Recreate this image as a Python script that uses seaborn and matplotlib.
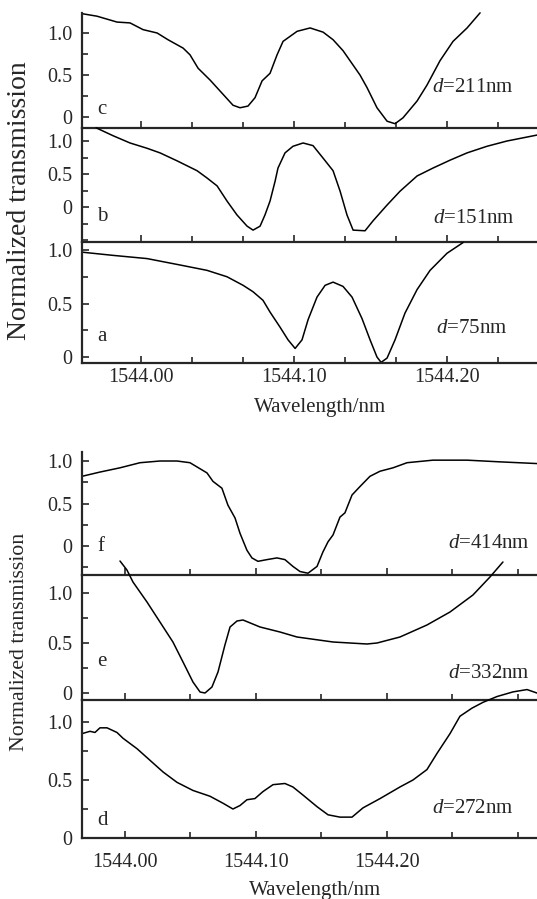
import matplotlib.pyplot as plt
import pandas as pd
import seaborn as sns
from matplotlib.ticker import FixedLocator, FuncFormatter, MultipleLocator

# wavelength (nm) / normalized transmission
C_WL = [1543.9614, 1543.9712, 1543.9843, 1543.9928, 1544.0013, 1544.0105, 1544.0176, 1544.0275,
        1544.0320, 1544.0373, 1544.0451, 1544.0536, 1544.0601, 1544.0647, 1544.0699, 1544.0745,
        1544.0791, 1544.0843, 1544.0889, 1544.0928, 1544.1020, 1544.1105, 1544.1190, 1544.1255,
        1544.1320, 1544.1431, 1544.1477, 1544.1542, 1544.1608, 1544.1660, 1544.1712, 1544.1804,
        1544.1869, 1544.1954, 1544.2039, 1544.2131, 1544.2216]
C_T = [1.23, 1.20, 1.13, 1.12, 1.04, 1.00, 0.92, 0.82, 0.74, 0.58, 0.44, 0.27, 0.14, 0.11, 0.13,
       0.23, 0.43, 0.52, 0.74, 0.90, 1.02, 1.06, 1.01, 0.92, 0.79, 0.50, 0.35, 0.11, -0.05, -0.08,
       -0.01, 0.19, 0.38, 0.67, 0.90, 1.06, 1.24]

B_WL = [1543.9706, 1543.9817, 1543.9928, 1544.0039, 1544.0124, 1544.0235, 1544.0366, 1544.0431,
        1544.0497, 1544.0562, 1544.0627, 1544.0693, 1544.0732, 1544.0778, 1544.0810, 1544.0843,
        1544.0876, 1544.0895, 1544.0941, 1544.0993, 1544.1059, 1544.1124, 1544.1190, 1544.1255,
        1544.1301, 1544.1346, 1544.1386, 1544.1464, 1544.1516, 1544.1608, 1544.1693, 1544.1804,
        1544.1908, 1544.2020, 1544.2131, 1544.2261, 1544.2392, 1544.2588]
B_T = [1.20, 1.08, 0.97, 0.89, 0.82, 0.70, 0.55, 0.44, 0.32, 0.09, -0.12, -0.29, -0.35, -0.29,
       -0.12, 0.09, 0.39, 0.59, 0.82, 0.92, 0.97, 0.93, 0.74, 0.55, 0.24, -0.12, -0.35, -0.36,
       -0.21, 0.03, 0.24, 0.47, 0.59, 0.71, 0.82, 0.92, 1.00, 1.09]

A_WL = [1543.9614, 1543.9817, 1544.0039, 1544.0255, 1544.0431, 1544.0562, 1544.0667, 1544.0732,
        1544.0797, 1544.0843, 1544.0908, 1544.0961, 1544.1007, 1544.1052, 1544.1092, 1544.1150,
        1544.1203, 1544.1255, 1544.1320, 1544.1379, 1544.1444, 1544.1497, 1544.1542, 1544.1569,
        1544.1608, 1544.1660, 1544.1725, 1544.1804, 1544.1889, 1544.2000, 1544.2105]
A_T = [0.98, 0.95, 0.92, 0.86, 0.81, 0.75, 0.67, 0.61, 0.53, 0.42, 0.28, 0.16, 0.08, 0.16, 0.35,
       0.56, 0.67, 0.70, 0.66, 0.56, 0.36, 0.16, 0.00, -0.05, -0.01, 0.16, 0.41, 0.63, 0.81, 0.97,
       1.07]

F_WL = [1543.9672, 1543.9809, 1543.9962, 1544.0115, 1544.0267, 1544.0397, 1544.0496, 1544.0626,
        1544.0672, 1544.0740, 1544.0786, 1544.0840, 1544.0878, 1544.0931, 1544.0969, 1544.1015,
        1544.1084, 1544.1160, 1544.1221, 1544.1282, 1544.1336, 1544.1397, 1544.1466, 1544.1511,
        1544.1550, 1544.1588, 1544.1641, 1544.1679, 1544.1733, 1544.1794, 1544.1870, 1544.1947,
        1544.2046, 1544.2153, 1544.2351, 1544.2611, 1544.2863, 1544.3145]
F_T = [0.82, 0.87, 0.92, 0.98, 1.00, 1.00, 0.98, 0.86, 0.76, 0.68, 0.48, 0.33, 0.15, -0.05, -0.14,
       -0.18, -0.16, -0.14, -0.16, -0.24, -0.30, -0.32, -0.24, -0.07, 0.05, 0.13, 0.34, 0.39, 0.60,
       0.70, 0.82, 0.88, 0.92, 0.98, 1.01, 1.01, 0.99, 0.97]

E_WL = [1543.9962, 1544.0015, 1544.0061, 1544.0168, 1544.0267, 1544.0366, 1544.0443, 1544.0519,
        1544.0573, 1544.0611, 1544.0664, 1544.0710, 1544.0763, 1544.0802, 1544.0855, 1544.0901,
        1544.1031, 1544.1183, 1544.1313, 1544.1588, 1544.1847, 1544.1924, 1544.2099, 1544.2305,
        1544.2481, 1544.2656, 1544.2786, 1544.2885]
E_T = [1.32, 1.23, 1.11, 0.91, 0.71, 0.51, 0.31, 0.11, 0.01, 0.00, 0.06, 0.21, 0.48, 0.66, 0.72,
       0.73, 0.66, 0.61, 0.56, 0.51, 0.49, 0.50, 0.56, 0.68, 0.81, 0.98, 1.16, 1.31]

D_WL = [1543.9672, 1543.9733, 1543.9771, 1543.9809, 1543.9863, 1543.9939, 1543.9985, 1544.0092,
        1544.0191, 1544.0290, 1544.0397, 1544.0519, 1544.0649, 1544.0748, 1544.0824, 1544.0878,
        1544.0931, 1544.0992, 1544.1053, 1544.1130, 1544.1221, 1544.1282, 1544.1359, 1544.1466,
        1544.1550, 1544.1641, 1544.1733, 1544.1817, 1544.1947, 1544.2099, 1544.2198, 1544.2305,
        1544.2382, 1544.2481, 1544.2557, 1544.2649, 1544.2733, 1544.2840, 1544.2962, 1544.3069,
        1544.3145]
D_T = [0.90, 0.92, 0.91, 0.95, 0.95, 0.91, 0.86, 0.77, 0.67, 0.57, 0.48, 0.41, 0.36, 0.30, 0.25,
       0.28, 0.33, 0.34, 0.40, 0.46, 0.47, 0.44, 0.37, 0.27, 0.20, 0.18, 0.18, 0.26, 0.34, 0.44,
       0.50, 0.59, 0.73, 0.90, 1.05, 1.12, 1.17, 1.22, 1.26, 1.28, 1.25]

THICKNESS = ["211nm", "151nm", "75nm", "414nm", "332nm", "272nm"]
LETTERS = ["c", "b", "a", "f", "e", "d"]
WL_LABELS = [1544.00, 1544.10, 1544.20]
TOP_MINOR = [1544.0333, 1544.0667, 1544.1333, 1544.1667, 1544.2333]
BOT_MINOR = [1544.05, 1544.15, 1544.25, 1544.30]

W, H = 537, 899
LEFT = 82
SERIF = ["Liberation Serif", "DejaVu Serif"]

sns.set_style("ticks")
plt.rcParams.update({
    "font.family": SERIF,
    "mathtext.fontset": "custom",
    "mathtext.rm": "Liberation Serif",
    "mathtext.it": "Liberation Serif:italic",
    "axes.linewidth": 1.6,
    "xtick.direction": "in",
    "ytick.direction": "in",
    "xtick.major.width": 1.2,
    "ytick.major.width": 1.2,
    "xtick.minor.width": 1.2,
    "ytick.minor.width": 1.2,
    "xtick.major.size": 5,
    "ytick.major.size": 5,
    "xtick.minor.size": 4,
    "ytick.minor.size": 4,
    "xtick.labelsize": 14.5,
    "ytick.labelsize": 14.5,
})

# layout: pixel top/bottom of each panel, ylim, letter and thickness label positions
PANELS = [
    dict(wl=C_WL, t=C_T, top=13, bot=128, ylim=(-0.131, 1.238), let=(0.033, 0.157), lab=(0.769, 0.348)),
    dict(wl=B_WL, t=B_T, top=128, bot=242, ylim=(-0.530, 1.197), let=(0.033, 0.228), lab=(0.771, 0.21)),
    dict(wl=A_WL, t=A_T, top=242, bot=363, ylim=(-0.056, 1.075), let=(0.033, 0.215), lab=(0.778, 0.289)),
    dict(wl=F_WL, t=F_T, top=452, bot=575, ylim=(-0.341, 1.106), let=(0.033, 0.228), lab=(0.804, 0.26)),
    dict(wl=E_WL, t=E_T, top=575, bot=700, ylim=(-0.07, 1.18), let=(0.033, 0.304), lab=(0.804, 0.216)),
    dict(wl=D_WL, t=D_T, top=700, bot=838, ylim=(0.0, 1.19), let=(0.033, 0.13), lab=(0.769, 0.217)),
]


def ylab(v, _):
    return "0" if abs(v) < 1e-9 else f"{v:.1f}"


fig = plt.figure(figsize=(W / 100, H / 100), dpi=100)

for i, p in enumerate(PANELS):
    ax = fig.add_axes([LEFT / W, 1 - p["bot"] / H, (W - LEFT) / W, (p["bot"] - p["top"]) / H])
    df = pd.DataFrame({"wl": p["wl"], "t": p["t"]})
    sns.lineplot(data=df, x="wl", y="t", color="black", linewidth=1.1, ax=ax, clip_on=False)
    top_group = i < 3
    if top_group:
        ax.set_xlim(1543.9614, 1544.2588)
        ax.xaxis.set_minor_locator(FixedLocator(TOP_MINOR))
    else:
        ax.set_xlim(1543.9672, 1544.3145)
        ax.xaxis.set_minor_locator(FixedLocator(BOT_MINOR))
    ax.xaxis.set_major_locator(FixedLocator(WL_LABELS))
    ax.xaxis.set_major_formatter(FuncFormatter(lambda v, _: f"{v:.2f}"))
    ax.set_ylim(*p["ylim"])
    ax.yaxis.set_major_locator(FixedLocator([0, 0.5, 1.0]))
    ax.yaxis.set_minor_locator(MultipleLocator(0.25))
    ax.yaxis.set_major_formatter(FuncFormatter(ylab))
    ax.tick_params(axis="y", which="both", pad=7)
    sns.despine(ax=ax)
    ax.set_xlabel("")
    ax.set_ylabel("")
    ax.patch.set_alpha(0)
    if i in (2, 5):
        ax.tick_params(axis="x", pad=3.5 if i == 2 else 11)
    else:
        ax.tick_params(axis="x", labelbottom=False)
    ax.text(*p["let"], LETTERS[i], transform=ax.transAxes, fontsize=15, va="center", ha="left")
    ax.text(*p["lab"], r"$d$=" + THICKNESS[i], transform=ax.transAxes, fontsize=15,
            va="center", ha="left")

fig.text(20 / W, 1 - 201 / H, "Normalized transmission", rotation=90, fontsize=20,
         ha="center", va="center")
fig.text(20 / W, 1 - 642 / H, "Normalized transmission", rotation=90, fontsize=15.7,
         ha="center", va="center")
fig.text(320 / W, 1 - 408 / H, "Wavelength/nm", fontsize=15, ha="center", va="center")
fig.text(315 / W, 1 - 891 / H, "Wavelength/nm", fontsize=15, ha="center", va="center")

fig.savefig("out.png", dpi=100)
